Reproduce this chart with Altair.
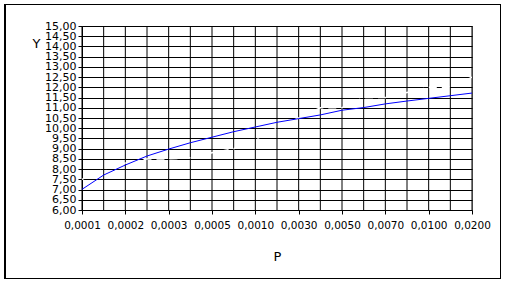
import altair as alt
import pandas as pd

# category values (19 categories, every other one labelled)
p_cats = ["0,0001", "0,00015", "0,0002", "0,00025", "0,0003", "0,0004", "0,0005",
          "0,00075", "0,0010", "0,0020", "0,0030", "0,0040", "0,0050", "0,0060",
          "0,0070", "0,0085", "0,0100", "0,0150", "0,0200"]
label_cats = ["0,0001", "0,0002", "0,0003", "0,0005", "0,0010", "0,0030",
              "0,0050", "0,0070", "0,0100", "0,0200"]
y_values = [7.01, 7.71, 8.20, 8.64, 8.98, 9.29, 9.56, 9.83, 10.06, 10.29,
            10.47, 10.65, 10.88, 11.01, 11.19, 11.33, 11.46, 11.59, 11.72]
# hidden white series (only visible where it crosses grid lines)
white_values = [7.5, 8.0, 8.3, 8.5, 8.5, 8.55, 8.8, 9.0, 9.45, 10.0,
                10.5, 11.0, 11.0, 11.5, 11.5, 11.75, 12.0, 12.0, 12.5]
y_ticks = [6 + 0.5 * i for i in range(19)]

df = pd.DataFrame({"P": p_cats, "Y": y_values, "W": white_values})
grid_df = pd.DataFrame({"P": p_cats})

xscale = alt.Scale(type="point", padding=0, domain=p_cats)
yscale = alt.Scale(domain=[6, 15], nice=False, zero=False)

xaxis = alt.Axis(values=label_cats, grid=False, domainColor="black", tickColor="black",
                 tickSize=4, labelFont="DejaVu Sans", labelFontSize=10.5, labelColor="black",
                 labelPadding=6, labelAngle=0, labelOverlap=False, labelFlush=False,
                 title="P", titleFont="DejaVu Sans",
                 titleFontSize=13, titleFontWeight="normal", titleColor="black",
                 titlePadding=20)
yaxis = alt.Axis(values=y_ticks, grid=True, gridColor="black", gridOpacity=1,
                 domainColor="black", tickColor="black", tickSize=4,
                 labelFont="DejaVu Sans", labelFontSize=11, labelColor="black",
                 labelPadding=2, labelOverlap=False, labelFlush=False,
                 labelExpr="replace(format(datum.value, '.2f'), '.', ',')",
                 title="Y", titleAngle=0, titleX=-46, titleY=17, titleAlign="center",
                 titleBaseline="middle", titleFont="DejaVu Sans", titleFontSize=13,
                 titleFontWeight="normal", titleColor="black")

vgrid = alt.Chart(grid_df).mark_rule(color="black", strokeWidth=1).encode(
    x=alt.X("P:N", scale=xscale, sort=None, axis=xaxis)
)

white = alt.Chart(df).mark_line(color="white", strokeWidth=1.5, strokeDash=[8, 5]).encode(
    x=alt.X("P:N", scale=xscale, sort=None, axis=xaxis),
    y=alt.Y("W:Q", scale=yscale, axis=yaxis),
)

line = alt.Chart(df).mark_line(color="#0000ff", strokeWidth=1).encode(
    x=alt.X("P:N", scale=xscale, sort=None, axis=xaxis),
    y=alt.Y("Y:Q", scale=yscale, axis=yaxis),
)

border = alt.Chart(grid_df).mark_rect(fill=None, stroke="black", strokeWidth=1).encode(
    x=alt.value(-77), x2=alt.value(418.5), y=alt.value(-21.5), y2=alt.value(252.5)
)

chart = alt.layer(vgrid, white, line, border).properties(
    width=390, height=184,
    autosize=alt.AutoSizeParams(type="none"),
    padding={"left": 82, "top": 26, "right": 34, "bottom": 74},
    background="white",
).configure_view(stroke="#808080", strokeWidth=1)

chart.save("out.html", embed_options={"renderer": "svg", "actions": False})
